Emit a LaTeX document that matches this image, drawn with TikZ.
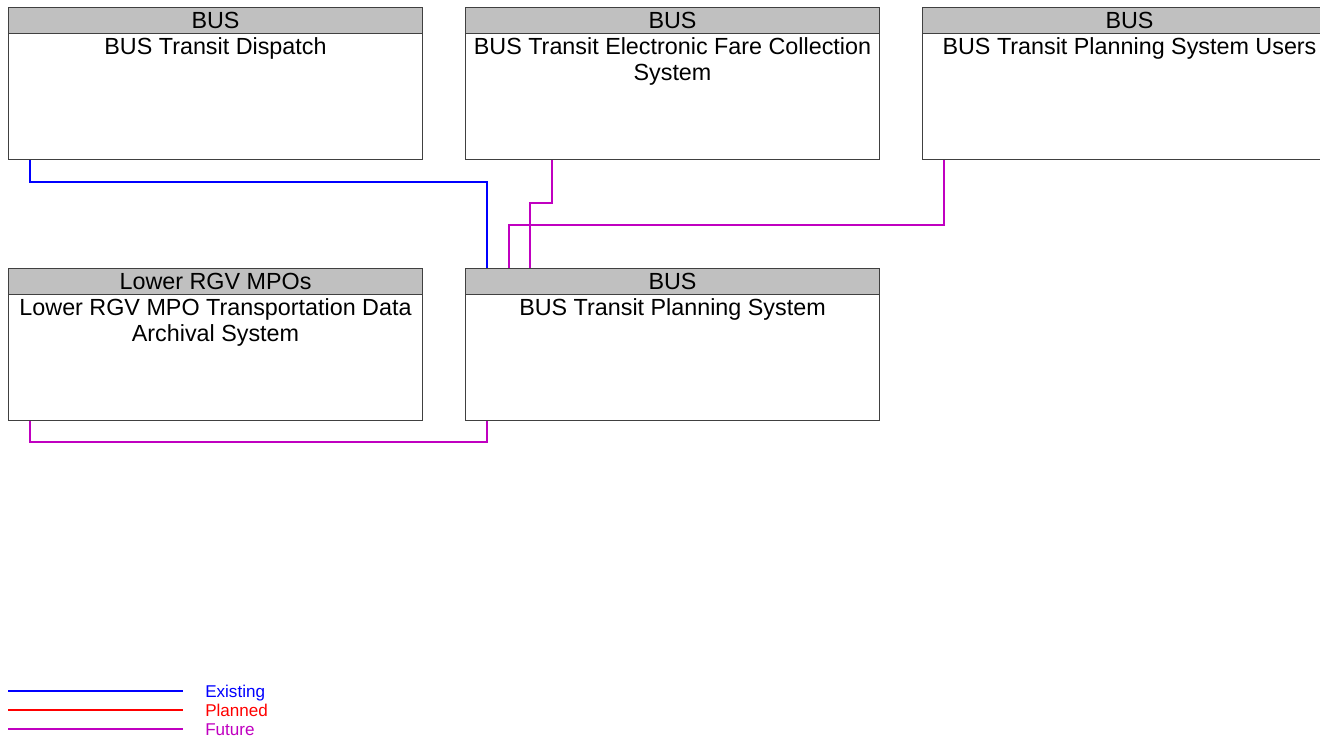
\documentclass[tikz,border=0pt]{standalone}
\usepackage{fontspec}
\setmainfont{Liberation Sans}
\usetikzlibrary{calc,positioning}

\definecolor{headgray}{RGB}{192,192,192}
\definecolor{boxline}{RGB}{64,64,64}
\definecolor{existcol}{RGB}{0,0,255}
\definecolor{plancol}{RGB}{255,0,0}
\definecolor{futurecol}{RGB}{192,0,192}

\begin{document}
\begin{tikzpicture}[x=0.75pt,y=-0.75pt,
  sysbody/.style={draw=boxline,fill=white,line width=0.75pt,inner sep=0pt,
    minimum width=310.5pt,minimum height=114pt,anchor=north west},
  syshead/.style={draw=boxline,fill=headgray,line width=0.75pt,inner sep=0pt,
    minimum width=310.5pt,minimum height=19.5pt,anchor=north west,
    font=\fontsize{17.5}{19.5}\selectfont},
  systitle/.style={inner sep=0pt,align=center,anchor=north,
    font=\fontsize{17.5}{19.5}\selectfont},
  existing/.style={draw=existcol,line width=0.9pt},
  planned/.style={draw=plancol,line width=0.9pt},
  future/.style={draw=futurecol,line width=0.9pt},
  legtext/.style={inner sep=0pt,anchor=base west,font=\fontsize{12.8}{14}\selectfont}]
  \clip (0,0) rectangle (1320,739);
  \useasboundingbox (0,0) rectangle (1320,739);
  % Top row
  \node[sysbody] (disp) at (8,7) {};
  \node[syshead] (disp-h) at (disp.north west) {BUS};
  \node[systitle,below=2.4pt of disp-h] (disp-t) {BUS Transit Dispatch};
  \node[sysbody] (fare) at (465,7) {};
  \node[syshead] (fare-h) at (fare.north west) {BUS};
  \node[systitle,below=2.4pt of fare-h] (fare-t) {BUS Transit Electronic Fare Collection\\System};
  \node[sysbody] (users) at (922,7) {};
  \node[syshead] (users-h) at (users.north west) {BUS};
  \node[systitle,below=2.4pt of users-h] (users-t) {BUS Transit Planning System Users};
  % Second row
  \node[sysbody] (archive) at (8,268) {};
  \node[syshead] (archive-h) at (archive.north west) {Lower RGV MPOs};
  \node[systitle,below=2.4pt of archive-h] (archive-t) {Lower RGV MPO Transportation Data\\Archival System};
  \node[sysbody] (plan) at (465,268) {};
  \node[syshead] (plan-h) at (plan.north west) {BUS};
  \node[systitle,below=2.4pt of plan-h] (plan-t) {BUS Transit Planning System};
  % Flows into the planning system
  \draw[existing] ($(disp.south west)+(22,0)$) -- ++(0,22) -| ($(plan-h.north west)+(22,0)$);
  \draw[future] ($(fare.south west)+(87,0)$) -- ++(0,43) -| ($(plan-h.north west)+(65,0)$);
  \draw[future] ($(users.south west)+(22,0)$) -- ++(0,65) -| ($(plan-h.north west)+(44,0)$);
  \draw[future] ($(archive.south west)+(22,0)$) -- ++(0,21) -| ($(plan.south west)+(22,0)$);
  % Legend
  \node[legtext,text=existcol] (leg-ex) at (205,697) {Existing};
  \node[legtext,text=plancol] (leg-pl) at (205,716) {Planned};
  \node[legtext,text=futurecol] (leg-fu) at (205,735) {Future};
  \coordinate (leg-ex-s) at (8,691);
  \coordinate (leg-pl-s) at (8,710);
  \coordinate (leg-fu-s) at (8,729);
  \draw[existing] (leg-ex-s) -- ($(leg-ex.west |- leg-ex-s)+(-22,0)$);
  \draw[planned] (leg-pl-s) -- ($(leg-pl.west |- leg-pl-s)+(-22,0)$);
  \draw[future] (leg-fu-s) -- ($(leg-fu.west |- leg-fu-s)+(-22,0)$);
\end{tikzpicture}
\end{document}
